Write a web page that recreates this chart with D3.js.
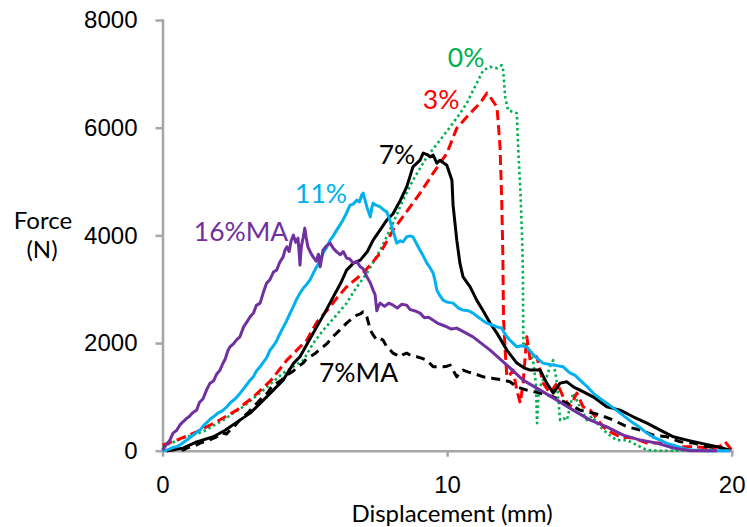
<!DOCTYPE html>
<html>
<head>
<meta charset="utf-8">
<script src="https://cdn.jsdelivr.net/npm/d3@7"></script>
<style>
  body { margin: 0; background: #fff; }
  svg { font-family: Lato, "Open Sans", sans-serif; }
  .axis path, .axis line { stroke: #a6a6a6; stroke-width: 2.5; }
  .axis text { fill: #000; font-size: 24px; }
  .title { font-size: 24px; fill: #000; }
  .lab { font-size: 26.5px; }
</style>
</head>
<body>
<script>
//series names and tick values
var seriesNames = ["0%", "3%", "7%", "7%MA", "11%", "16%MA"];
var xTicks = [0, 10, 20];
var yTicks = [0, 2000, 4000, 6000, 8000];

//[displacement (mm), force (N)]
var s0 = [[0,72],[0.72,234],[1.42,351],[2.13,568],[2.83,815],[3.54,1125],[4.24,1441],[4.95,1682],[5.3,2000],[5.65,2240],[6.05,2480],[6.47,2741],[6.8,3020],[7.18,3298],[7.65,3725],[8.1,4226],[8.45,4654],[8.8,5025],[9.29,5458],[9.75,5768],[10.11,6015],[10.46,6269],[10.69,6455],[11.04,6826],[11.27,7067],[11.51,7129],[11.75,7105],[11.92,7160],[11.97,7067],[12.04,6572],[12.14,6325],[12.32,6293],[12.45,6269],[12.5,5582],[12.57,4901],[12.63,4041],[12.66,3420],[12.68,1998],[12.8,1929],[13.02,1682],[13.12,1255],[13.16,513],[13.22,1125],[13.35,1300],[13.5,1372],[13.64,1600],[13.73,1682],[13.86,1255],[13.97,568],[14.1,600],[14.21,568],[14.43,1070],[14.67,815],[14.91,568],[15.1,640],[15.26,513],[15.61,327],[15.96,197],[16.32,197],[16.79,72],[17.02,11],[17.49,0],[19.83,0]];

var s3 = [[0,104],[0.5,197],[1.2,351],[1.9,537],[2.61,754],[3.19,1000],[3.8,1300],[4.37,1682],[4.72,1868],[5.07,2054],[5.42,2388],[5.89,2672],[6.12,2834],[6.47,3044],[7.05,3298],[7.65,3669],[8.1,4097],[8.7,4529],[9.05,4784],[9.51,5155],[9.99,5521],[10.34,5991],[10.81,6269],[11.16,6455],[11.4,6641],[11.51,6572],[11.75,6386],[11.79,6139],[11.86,5643],[11.92,4654],[11.96,3601],[11.98,2487],[12.04,1868],[12.1,1372],[12.22,1420],[12.32,1497],[12.45,1125],[12.57,884],[12.67,1255],[12.8,2115],[12.92,1682],[13.04,1760],[13.15,1744],[13.27,1497],[13.37,1255],[13.62,1070],[13.86,1255],[14.08,1001],[14.32,815],[14.56,1070],[14.78,815],[15.03,754],[15.38,513],[15.61,383],[16.08,258],[16.54,234],[17.02,141],[17.49,141],[17.95,72],[18.65,72],[19.35,48],[19.6,90],[19.77,165],[20,11]];

var s7 = [[0.15,0],[0.72,48],[1.2,165],[1.79,258],[2.2,380],[2.72,568],[3.08,698],[3.66,1001],[4.24,1311],[4.6,1621],[4.83,1744],[5.1,2000],[5.42,2300],[5.7,2560],[6.0,2858],[6.25,3100],[6.47,3354],[6.7,3480],[6.95,3539],[7.2,3700],[7.4,3911],[7.65,4100],[7.88,4282],[8.1,4400],[8.36,4654],[8.58,4901],[8.8,5272],[9.05,5396],[9.16,5527],[9.3,5500],[9.4,5458],[9.51,5489],[9.64,5340],[9.75,5396],[9.99,5303],[10.17,5025],[10.21,4561],[10.34,3911],[10.45,3484],[10.56,3229],[10.81,3044],[11.04,2797],[11.27,2593],[11.51,2370],[11.75,2184],[12.1,1868],[12.45,1627],[12.7,1540],[12.92,1497],[13.27,1497],[13.5,1255],[13.73,1070],[13.97,1255],[14.21,1279],[14.45,1180],[14.67,1125],[15.13,1001],[15.61,815],[16.08,754],[16.54,630],[17.02,513],[17.49,383],[17.95,258],[18.43,197],[18.9,141],[19.48,72],[19.95,11]];

var s7ma = [[0.15,0],[0.4,20],[0.72,11],[0.9,60],[1.1,80],[1.32,141],[1.5,170],[1.7,210],[1.9,258],[2.1,330],[2.25,310],[2.37,383],[2.55,470],[2.7,560],[2.83,630],[3.0,700],[3.18,815],[3.35,900],[3.53,1001],[3.7,1080],[3.85,1200],[4.01,1255],[4.2,1320],[4.35,1400],[4.48,1441],[4.6,1480],[4.75,1560],[4.94,1627],[5.05,1700],[5.18,1744],[5.35,1800],[5.5,1870],[5.64,1929],[5.8,2000],[5.95,2100],[6.12,2184],[6.3,2280],[6.47,2370],[6.65,2450],[6.83,2518],[6.95,2540],[7.05,2580],[7.12,2550],[7.18,2487],[7.25,2350],[7.3,2240],[7.4,2150],[7.53,2054],[7.65,2080],[7.75,2054],[7.88,1929],[8.0,1870],[8.1,1812],[8.22,1780],[8.35,1744],[8.47,1790],[8.58,1812],[8.75,1760],[8.94,1744],[9.1,1720],[9.29,1682],[9.4,1620],[9.51,1558],[9.7,1560],[9.86,1558],[10.0,1570],[10.11,1590],[10.2,1500],[10.34,1372],[10.45,1450],[10.56,1497],[10.75,1460],[10.91,1441],[11.27,1372],[11.62,1343],[11.97,1311],[12.21,1280],[12.45,1187],[12.8,1125],[13.27,1070],[13.73,1001],[14.21,884],[14.67,754],[15.13,698],[15.38,661],[15.84,568],[16.32,444],[16.79,383],[17.24,290],[17.72,258],[18.19,165],[18.65,141],[19.13,72],[19.7,48]];

var s11 = [[0,0],[0.2,20],[0.37,60],[0.5,72],[0.65,120],[0.85,200],[1.0,260],[1.15,320],[1.32,383],[1.45,470],[1.55,520],[1.68,590],[1.79,630],[1.95,700],[2.1,740],[2.26,815],[2.4,900],[2.55,960],[2.72,1064],[2.85,1150],[2.95,1220],[3.08,1311],[3.2,1380],[3.3,1480],[3.43,1558],[3.55,1650],[3.65,1720],[3.78,1868],[3.9,1950],[4.0,2030],[4.13,2178],[4.25,2300],[4.35,2400],[4.48,2550],[4.6,2680],[4.7,2800],[4.83,2927],[4.95,3020],[5.05,3080],[5.18,3168],[5.3,3300],[5.42,3415],[5.52,3520],[5.64,3669],[5.75,3760],[5.89,3911],[6.0,3990],[6.12,4097],[6.22,4180],[6.34,4282],[6.45,4400],[6.59,4561],[6.7,4580],[6.83,4654],[6.92,4620],[7.0,4750],[7.05,4784],[7.12,4650],[7.18,4529],[7.25,4420],[7.3,4343],[7.35,4500],[7.4,4598],[7.5,4560],[7.65,4529],[7.75,4480],[7.88,4436],[7.98,4300],[8.06,4158],[8.15,4000],[8.23,3855],[8.35,3900],[8.45,3880],[8.58,3972],[8.7,3990],[8.8,3972],[8.92,3850],[9.05,3725],[9.18,3600],[9.29,3484],[9.4,3400],[9.51,3298],[9.58,3150],[9.64,2982],[9.75,2880],[9.86,2796],[10.0,2760],[10.21,2741],[10.4,2650],[10.56,2611],[10.75,2600],[10.91,2555],[11.1,2480],[11.25,2420],[11.4,2369],[11.6,2330],[11.75,2300],[11.92,2277],[12.0,2200],[12.1,2115],[12.25,2030],[12.45,1929],[12.6,1950],[12.8,1929],[13.0,1800],[13.2,1700],[13.37,1627],[13.6,1600],[13.85,1580],[14.08,1558],[14.3,1450],[14.5,1400],[14.67,1311],[14.9,1200],[15.13,1070],[15.35,980],[15.61,884],[15.85,790],[16.08,698],[16.3,610],[16.54,513],[16.8,420],[17.02,327],[17.25,250],[17.49,197],[17.7,140],[17.95,104],[18.25,50],[18.54,11],[19.13,0],[19.95,0]];

var s16ma = [[0,10],[0.15,120],[0.26,197],[0.37,327],[0.5,380],[0.6,470],[0.72,537],[0.85,600],[0.95,640],[1.05,700],[1.2,754],[1.3,900],[1.42,960],[1.55,1130],[1.67,1255],[1.8,1300],[1.9,1420],[2.02,1496],[2.12,1620],[2.2,1700],[2.3,1860],[2.37,1929],[2.5,1990],[2.6,2060],[2.72,2115],[2.85,2300],[2.95,2380],[3.08,2487],[3.2,2560],[3.3,2700],[3.43,2741],[3.55,2950],[3.66,3113],[3.78,3180],[3.9,3320],[4.01,3354],[4.12,3500],[4.24,3600],[4.3,3720],[4.37,3786],[4.45,3700],[4.52,3900],[4.6,4004],[4.68,3870],[4.76,3949],[4.8,3700],[4.83,3448],[4.88,3800],[4.94,3950],[5.0,4134],[5.05,3950],[5.11,3786],[5.2,3680],[5.29,3600],[5.4,3520],[5.48,3650],[5.54,3415],[5.6,3600],[5.64,3725],[5.75,3800],[5.89,3855],[6.0,3760],[6.12,3693],[6.25,3640],[6.35,3700],[6.47,3578],[6.58,3560],[6.7,3484],[6.82,3520],[6.95,3415],[7.05,3380],[7.18,3229],[7.3,3120],[7.4,2982],[7.47,2900],[7.53,2600],[7.6,2700],[7.65,2741],[7.8,2680],[7.95,2740],[8.1,2704],[8.25,2650],[8.4,2720],[8.58,2704],[8.7,2620],[8.85,2600],[9.05,2555],[9.2,2470],[9.35,2480],[9.51,2425],[9.7,2360],[9.85,2330],[9.99,2300],[10.15,2260],[10.34,2277],[10.91,2115],[11.51,1868],[12.1,1590],[12.67,1311],[13.27,1125],[13.86,940],[14.43,754],[15.03,568],[15.61,444],[16.19,290],[16.79,197],[17.37,141],[17.95,48],[18.54,0],[19.48,0]];

var seriesData = [s0, s3, s7, s7ma, s11, s16ma];
var seriesColors = ["#00b050", "#ff0000", "#000000", "#000000", "#00b0f0", "#7030a0"];
var seriesDash = ["2.5,3", "10,5", null, "9,6", null, null];

//label anchors in data units [displacement, force]
var labelAt = [[10.67,7123],[9.79,6341],[8.24,5324],[6.89,1274],[5.57,4599],[2.76,3893]];

var width = 747, height = 527;
var svg = d3.select("body").append("svg")
    .attr("width", width)
    .attr("height", height);

var x = d3.scaleLinear().domain([0, 20]).range([162.5, 731.7]);
var y = d3.scaleLinear().domain([0, 8000]).range([450.7, 20]);

//axes
var xAxis = svg.append("g")
    .attr("class", "axis")
    .attr("transform", "translate(0," + y(0) + ")")
    .call(d3.axisBottom(x).tickValues(xTicks).tickSize(6).tickSizeOuter(0).tickPadding(19).tickFormat(d3.format("d")));

var yAxis = svg.append("g")
    .attr("class", "axis")
    .attr("transform", "translate(" + x(0) + ",0)")
    .call(d3.axisLeft(y).tickValues(yTicks).tickSize(7).tickSizeOuter(0).tickPadding(18).tickFormat(d3.format("d")));

svg.selectAll(".axis .domain").attr("stroke-linecap", "square");

//curves
var line = d3.line()
    .x(function(d){ return x(d[0]); })
    .y(function(d){ return y(d[1]); });

seriesData.forEach(function(s, i){
    svg.append("path")
        .datum(s)
        .attr("d", line)
        .attr("fill", "none")
        .attr("stroke", seriesColors[i])
        .attr("stroke-width", i == 0 ? 2.6 : 3)
        .attr("stroke-linejoin", "round")
        .attr("stroke-dasharray", seriesDash[i]);
});

//curve labels
svg.selectAll(".lab")
    .data(seriesNames)
    .enter()
    .append("text")
    .attr("class", "lab")
    .attr("text-anchor", "middle")
    .attr("x", function(d, i){ return x(labelAt[i][0]); })
    .attr("y", function(d, i){ return y(labelAt[i][1]); })
    .attr("fill", function(d, i){ return seriesColors[i]; })
    .text(function(d){ return d; });

//axis titles
svg.append("text").attr("class", "title")
    .attr("x", 452).attr("y", 522)
    .attr("text-anchor", "middle")
    .text("Displacement (mm)");

svg.append("text").attr("class", "title")
    .attr("x", 43).attr("y", 229)
    .attr("text-anchor", "middle")
    .text("Force");

svg.append("text").attr("class", "title")
    .attr("x", 42).attr("y", 258)
    .attr("text-anchor", "middle")
    .text("(N)");
</script>
</body>
</html>
